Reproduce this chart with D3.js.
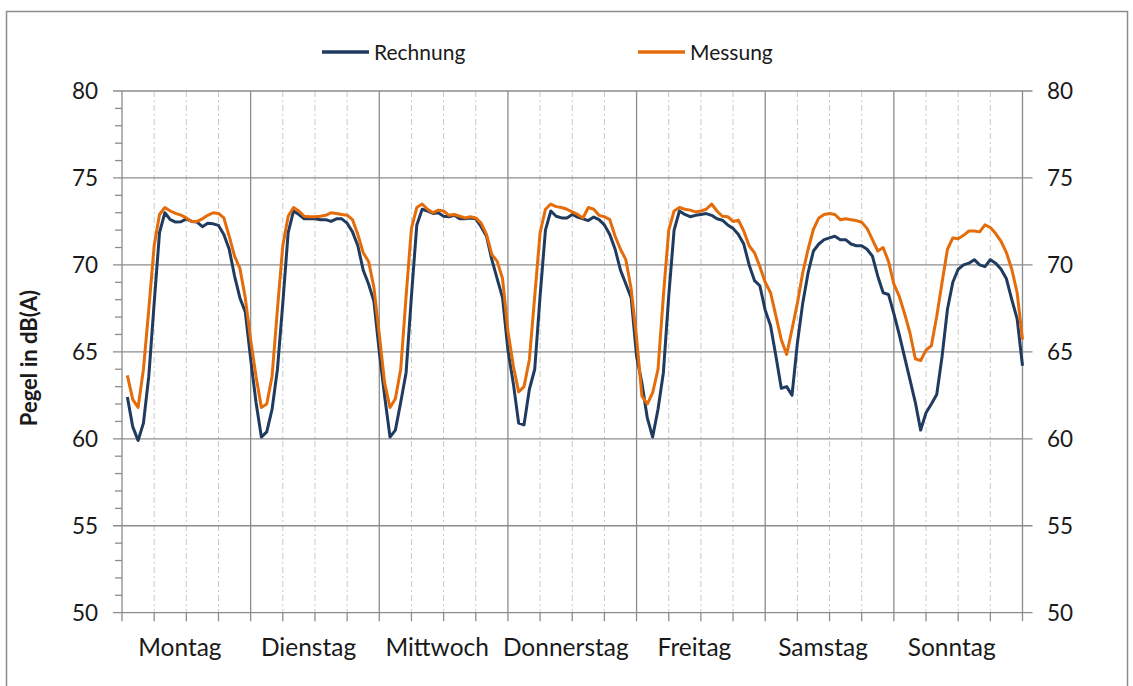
<!DOCTYPE html>
<html>
<head>
<meta charset="utf-8">
<script src="https://cdn.jsdelivr.net/npm/d3@7"></script>
<style>
  html, body { margin: 0; padding: 0; background: #ffffff; }
  svg { display: block; }
  text { font-family: Lato, "Open Sans", "DejaVu Sans", sans-serif; fill: #1a1a1a; }
</style>
</head>
<body>
<svg id="chart" width="1133" height="686"></svg>
<script>
// ---- data ----
const days = ["Montag", "Dienstag", "Mittwoch", "Donnerstag", "Freitag", "Samstag", "Sonntag"];
const yTicks = [50, 55, 60, 65, 70, 75, 80];
const seriesNames = ["Rechnung", "Messung"];

const rechnung = [
  // Montag
  62.4, 60.7, 59.9, 60.9, 63.6, 67.8, 71.85, 73.0, 72.6, 72.46, 72.48, 72.65, 72.5, 72.46, 72.2, 72.4, 72.36, 72.27, 71.75, 70.9, 69.36, 68.1, 67.3, 64.6,
  // Dienstag
  62.1, 60.1, 60.4, 61.7, 64.0, 67.8, 71.85, 73.1, 72.9, 72.65, 72.65, 72.65, 72.6, 72.6, 72.5, 72.65, 72.65, 72.4, 71.9, 71.1, 69.7, 68.9, 67.9, 65.0,
  // Mittwoch
  62.45, 60.1, 60.5, 62.1, 63.8, 68.2, 72.3, 73.2, 73.1, 72.96, 73.0, 72.8, 72.77, 72.85, 72.65, 72.65, 72.7, 72.65, 72.2, 71.65, 70.3, 69.2, 68.1, 65.1,
  // Donnerstag
  63.2, 60.9, 60.8, 62.85, 64.0, 68.2, 72.0, 73.1, 72.8, 72.7, 72.7, 72.9, 72.75, 72.65, 72.55, 72.75, 72.6, 72.3, 71.75, 70.9, 69.7, 68.9, 68.1, 64.75,
  // Freitag
  63.2, 61.2, 60.1, 61.7, 63.8, 68.2, 72.0, 73.1, 72.9, 72.77, 72.85, 72.9, 72.95, 72.85, 72.65, 72.57, 72.3, 72.1, 71.75, 71.2, 70.0, 69.1, 68.8, 67.4,
  // Samstag
  66.5, 64.75, 62.9, 63.0, 62.5, 65.5, 67.8, 69.55, 70.8, 71.2, 71.45, 71.55, 71.65, 71.45, 71.45, 71.2, 71.1, 71.1, 70.9, 70.5, 69.35, 68.4, 68.3, 67.2,
  // Sonntag
  66.0, 64.7, 63.4, 62.1, 60.5, 61.5, 62.0, 62.55, 64.75, 67.45, 69.0, 69.75, 70.0, 70.1, 70.3, 70.0, 69.9, 70.3, 70.1, 69.75, 69.2, 68.0, 66.9, 64.2
];

const messung = [
  // Montag
  63.65, 62.27, 61.8, 64.0, 67.45, 71.1, 72.9, 73.3, 73.1, 72.96, 72.86, 72.7, 72.5, 72.5, 72.65, 72.85, 73.0, 72.96, 72.7, 71.65, 70.5, 69.8, 68.1, 65.7,
  // Dienstag
  63.6, 61.8, 62.0, 63.6, 67.45, 71.1, 72.8, 73.3, 73.1, 72.8, 72.77, 72.77, 72.8, 72.85, 73.0, 72.96, 72.9, 72.86, 72.6, 71.75, 70.7, 70.2, 68.7, 66.0,
  // Mittwoch
  63.2, 61.8, 62.3, 64.0, 68.2, 72.1, 73.3, 73.5, 73.2, 73.0, 73.15, 73.1, 72.85, 72.9, 72.8, 72.7, 72.77, 72.7, 72.4, 71.75, 70.6, 70.2, 69.2, 66.2,
  // Donnerstag
  64.2, 62.7, 63.0, 64.55, 68.2, 71.85, 73.2, 73.5, 73.35, 73.3, 73.2, 73.05, 72.9, 72.7, 73.3, 73.2, 72.85, 72.77, 72.6, 71.65, 70.9, 70.3, 68.6, 65.8,
  // Freitag
  62.45, 62.0, 62.65, 64.0, 68.2, 72.0, 73.1, 73.3, 73.2, 73.15, 73.05, 73.1, 73.2, 73.5, 73.1, 72.8, 72.77, 72.5, 72.57, 71.95, 71.1, 70.7, 69.9, 69.0,
  // Samstag
  68.4, 67.05, 65.7, 64.85, 66.3, 67.8, 69.55, 70.9, 72.05, 72.7, 72.9, 72.95, 72.9, 72.6, 72.65, 72.6, 72.55, 72.45, 72.1, 71.45, 70.8, 71.0, 70.2, 68.9,
  // Sonntag
  68.2, 67.2, 66.1, 64.6, 64.5, 65.1, 65.35, 67.05, 69.0, 70.9, 71.55, 71.5, 71.7, 71.95, 71.95, 71.9, 72.3, 72.15, 71.8, 71.35, 70.7, 69.75, 68.4, 65.7
];

const colors = { Rechnung: "#1f3b5f", Messung: "#e46c0a" };

// ---- layout ----
const svg = d3.select("#chart");
const plot = { left: 122, right: 1022.5, top: 91, bottom: 612.7 };
const hoursPerDay = 24;
const nHours = days.length * hoursPerDay;

const x = d3.scaleLinear().domain([0, nHours]).range([plot.left, plot.right]);
const y = d3.scaleLinear().domain([50, 80]).range([plot.bottom, plot.top]);

// outer border
svg.append("rect")
  .attr("x", 6.5).attr("y", 11.5).attr("width", 1121).attr("height", 700)
  .attr("fill", "#ffffff").attr("stroke", "#8c8c8c").attr("stroke-width", 1.5);

const gridColor = "#8c8c8c";

// dashed 6-hour gridlines
const sixHour = d3.range(0, nHours + 1, 6);
svg.append("g").selectAll("line")
  .data(sixHour.filter(h => h % hoursPerDay !== 0))
  .join("line")
  .attr("x1", d => x(d)).attr("x2", d => x(d))
  .attr("y1", plot.top).attr("y2", plot.bottom)
  .attr("stroke", "#c8c8c8").attr("stroke-width", 1)
  .attr("stroke-dasharray", "6,3,2,3");

// horizontal gridlines (extend as major ticks on both sides)
svg.append("g").selectAll("line")
  .data(yTicks)
  .join("line")
  .attr("x1", plot.left - 9).attr("x2", plot.right + 10)
  .attr("y1", d => y(d)).attr("y2", d => y(d))
  .attr("stroke", gridColor).attr("stroke-width", 1.3);

// solid day-boundary gridlines
svg.append("g").selectAll("line")
  .data(d3.range(0, nHours + 1, hoursPerDay))
  .join("line")
  .attr("x1", d => x(d)).attr("x2", d => x(d))
  .attr("y1", plot.top).attr("y2", plot.bottom)
  .attr("stroke", gridColor).attr("stroke-width", 1.3);

// x-axis ticks every 6 hours
svg.append("g").selectAll("line")
  .data(sixHour)
  .join("line")
  .attr("x1", d => x(d)).attr("x2", d => x(d))
  .attr("y1", plot.bottom).attr("y2", plot.bottom + 8.5)
  .attr("stroke", gridColor).attr("stroke-width", 1.3);

// left minor ticks
svg.append("g").selectAll("line")
  .data(d3.range(50, 81, 1).filter(v => v % 5 !== 0))
  .join("line")
  .attr("x1", plot.left - 7).attr("x2", plot.left)
  .attr("y1", d => y(d)).attr("y2", d => y(d))
  .attr("stroke", gridColor).attr("stroke-width", 1.3);

// y tick labels (left and right)
svg.append("g").selectAll("text")
  .data(yTicks)
  .join("text")
  .attr("x", 98).attr("y", d => y(d) + 8)
  .attr("text-anchor", "end")
  .attr("font-size", 22.5)
  .text(d => d);
svg.append("g").selectAll("text")
  .data(yTicks)
  .join("text")
  .attr("x", 1047).attr("y", d => y(d) + 8)
  .attr("text-anchor", "start")
  .attr("font-size", 22.5)
  .text(d => d);

// day labels
svg.append("g").selectAll("text")
  .data(days)
  .join("text")
  .attr("x", (d, i) => x(i * hoursPerDay + 10.8))
  .attr("y", 656)
  .attr("text-anchor", "middle")
  .attr("font-size", 24.5)
  .text(d => d);

// y-axis title
svg.append("text")
  .attr("transform", "translate(37,358) rotate(-90)")
  .attr("text-anchor", "middle")
  .attr("font-size", 22)
  .attr("font-weight", "bold")
  .text("Pegel in dB(A)");

// lines
const line = d3.line()
  .x((d, i) => x(i + 1))
  .y(d => y(d));

svg.append("path")
  .datum(rechnung)
  .attr("fill", "none")
  .attr("stroke", colors.Rechnung)
  .attr("stroke-width", 3)
  .attr("stroke-linejoin", "round")
  .attr("d", line);

svg.append("path")
  .datum(messung)
  .attr("fill", "none")
  .attr("stroke", colors.Messung)
  .attr("stroke-width", 3)
  .attr("stroke-linejoin", "round")
  .attr("d", line);

// legend
const legendPos = [{ x1: 322, x2: 369, tx: 374 }, { x1: 638, x2: 685, tx: 690 }];
seriesNames.forEach((name, i) => {
  const p = legendPos[i];
  svg.append("line")
    .attr("x1", p.x1).attr("x2", p.x2).attr("y1", 52).attr("y2", 52)
    .attr("stroke", colors[name]).attr("stroke-width", 3.5);
  svg.append("text")
    .attr("x", p.tx).attr("y", 60)
    .attr("font-size", 21)
    .text(name);
});
</script>
</body>
</html>
